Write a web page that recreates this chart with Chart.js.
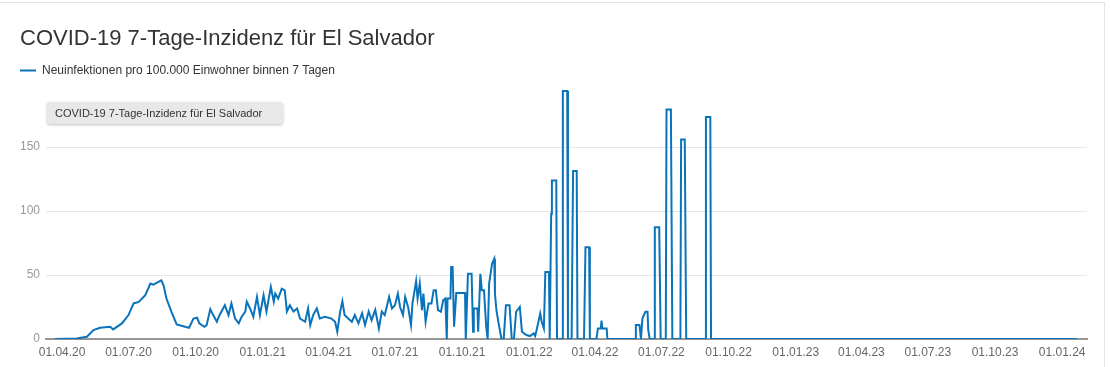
<!DOCTYPE html>
<html>
<head>
<meta charset="utf-8">
<script src="https://cdn.jsdelivr.net/npm/chart.js@4/dist/chart.umd.min.js"></script>
<style>
  body { margin: 0; background: #fff; font-family: "Liberation Sans", Arial, sans-serif; }
  #card { position: absolute; left: -2px; top: 2px; width: 1107px; height: 420px; border: 1px solid #e3e3e3; box-sizing: border-box; }
  #wrap { position: absolute; left: 0; top: 0; width: 1110px; height: 367px; }
  #label { position: absolute; left: 47px; top: 102px; width: 236px; height: 22px; line-height: 22px;
           background: #e8e8e8; border-radius: 3px; box-shadow: 0 1px 3px rgba(0,0,0,0.25);
           font-size: 11px; color: #333; padding-left: 8px; box-sizing: border-box; white-space: nowrap; }
</style>
</head>
<body>
<div id="card"></div>
<div id="wrap"><canvas id="myChart"></canvas></div>
<div id="label">COVID-19 7-Tage-Inzidenz für El Salvador</div>
<script>
// days counted from 01.04.2020
var days = [-10, 20, 34, 43, 52, 66, 70, 82, 91, 98, 105, 114, 121, 125, 130, 136, 139, 143, 150, 157,
  166, 174, 180, 185, 188, 195, 198, 203, 207, 212, 216, 223, 228, 232, 237, 242, 246, 251, 253, 258,
  262, 267, 271, 276, 280, 286, 290, 292, 296, 301, 305, 308, 312, 317, 322, 326, 333, 337, 340, 344,
  349, 353, 360, 369, 374, 377, 381, 384, 387, 392, 397, 401, 406, 411, 415, 420, 424, 429, 434, 438,
  442, 448, 452, 456, 460, 463, 467, 470, 474, 478, 480, 485, 487, 490, 493, 495, 498, 502, 506, 509,
  512, 515, 519, 522, 525, 527, 528, 532, 533, 535, 537, 540, 552, 553, 556, 561, 563, 564, 569, 570,
  573, 575, 578, 581, 583, 585, 586, 589, 592, 593, 595, 598, 602, 605, 608, 613, 616, 619, 622, 627,
  630, 636, 641, 646, 648, 650, 655, 657, 660, 662, 667, 668, 670, 671, 677, 678, 685, 686, 692, 693,
  698, 700, 705, 706, 715, 717, 722, 723, 732, 734, 738, 739, 740, 746, 747, 785, 786, 791, 793, 795,
  799, 802, 803, 805, 811, 812, 818, 820, 827, 828, 834, 836, 847, 848, 853, 855, 881, 882, 888, 889,
  1390];

var incidence = [0, 0.4, 1.8, 7, 8.8, 9.6, 7.5, 12.2, 18.7, 27.8, 29, 34.2, 43.3, 42.5, 44, 45.9, 42, 31.6, 21, 11.4,
  10, 8.8, 16, 16.6, 12.2, 9.6, 10.8, 23.3, 18.7, 13.5, 19, 26.4, 18.7, 27.8, 16, 12.2, 17.4, 21.5, 29.2, 23.3,
  17.4, 32.9, 18.7, 34.2, 21.5, 40.7, 29.2, 35.5, 31.6, 39.4, 38.1, 21.5, 26.4, 21.5, 23.9, 16, 13.5, 23.9, 10.9, 18.7,
  23.9, 16, 17.4, 16, 13.5, 5.7, 21.5, 29.5, 18.7, 16, 13.5, 18.7, 12.2, 20.2, 10.9, 21.5, 14.7, 22.8, 8.3, 21.5,
  18.7, 32.9, 23.9, 26.4, 35.5, 25, 18.7, 32.9, 25.1, 10.9, 27.8, 45.3, 31.6, 43.3, 22.5, 35.5, 13.5, 27.8, 27.8, 38.1,
  38.1, 22.5, 21.3, 30.3, 31.6, 0, 31.6, 31.6, 56.2, 56.2, 9.6, 36, 36, 0, 51, 51, 5.7, 23.9, 23.9, 5.7,
  51, 38.1, 38.1, 9.6, 0, 43.3, 43.3, 58.9, 62.7, 35.5, 22.5, 12.2, 0, 0, 26.4, 26.4, 0, 0, 21.3, 25.1,
  5.7, 3.1, 2.3, 4.4, 2.3, 6.9, 20, 13.5, 8.3, 52.3, 52.3, 0, 98, 124, 124, 0, 0, 194, 194, 0,
  0, 131.4, 131.4, 0, 0, 71.8, 71.8, 0, 0, 8.3, 8.3, 14.3, 8.3, 8.3, 0, 0, 10.9, 10.9, 0, 16,
  21.3, 21.3, 6.9, 0, 0, 87.3, 87.3, 0, 0, 179.4, 179.4, 0, 0, 156, 156, 0, 0, 173.6, 173.6, 0,
  0];

var tickLabels = ['01.04.20', '01.07.20', '01.10.20', '01.01.21', '01.04.21', '01.07.21', '01.10.21', '01.01.22',
  '01.04.22', '01.07.22', '01.10.22', '01.01.23', '01.04.23', '01.07.23', '01.10.23', '01.01.24'];
var yTicks = [0, 50, 100, 150];

function labelToDay(s) {
  var p = s.split('.');
  return (Date.UTC(2000 + Number(p[2]), Number(p[1]) - 1, Number(p[0])) - Date.UTC(2020, 3, 1)) / 86400000;
}
var tickDays = tickLabels.map(labelToDay);

var points = days.map(function (d, i) { return { x: d, y: incidence[i] }; });

var ctx = document.getElementById('myChart');

const chart = new Chart(ctx, {
  type: 'line',
  data: {
    datasets: [{
      label: 'Neuinfektionen pro 100.000 Einwohner binnen 7 Tagen',
      data: points,
      borderColor: '#0a73ba',
      backgroundColor: '#0a73ba',
      borderWidth: 2,
      pointRadius: 0,
      tension: 0,
      fill: false
    }]
  },
  options: {
    responsive: true,
    maintainAspectRatio: false,
    animation: false,
    events: [],
    layout: { padding: { left: 20, right: 23, top: 0, bottom: 6 } },
    font: { family: '"Liberation Sans", Arial, sans-serif' },
    plugins: {
      title: {
        display: true,
        text: 'COVID-19 7-Tage-Inzidenz für El Salvador',
        align: 'start',
        color: '#333',
        font: { size: 22, weight: 'normal', family: '"Liberation Sans", Arial, sans-serif' },
        padding: { top: 26, bottom: 12 }
      },
      legend: {
        display: true,
        align: 'start',
        labels: {
          color: '#333',
          font: { size: 12, family: '"Liberation Sans", Arial, sans-serif' },
          usePointStyle: true,
          pointStyle: 'line',
          pointStyleWidth: 16,
          padding: 0
        }
      },
      tooltip: { enabled: false }
    },
    scales: {
      x: {
        type: 'linear',
        min: -22,
        max: 1404,
        z: 1,
        afterBuildTicks: function (scale) {
          scale.ticks = tickDays.map(function (v) { return { value: v }; });
        },
        afterFit: function (scale) { scale.height = 22; },
        ticks: {
          autoSkip: false,
          maxRotation: 0,
          padding: 6,
          color: '#666',
          font: { size: 12 },
          callback: function (value, index) { return tickLabels[index]; }
        },
        grid: { display: false, drawTicks: false },
        border: { display: true, color: 'rgba(110,110,110,0.7)', width: 2 }
      },
      y: {
        min: 0,
        max: 197.5,
        afterBuildTicks: function (scale) {
          scale.ticks = yTicks.map(function (v) { return { value: v }; });
        },
        afterFit: function (scale) { scale.width = 26; },
        ticks: {
          padding: 6,
          color: '#999',
          font: { size: 12 }
        },
        grid: { color: '#e6e6e6', drawTicks: false },
        border: { display: false }
      }
    }
  }
});
</script>
</body>
</html>
